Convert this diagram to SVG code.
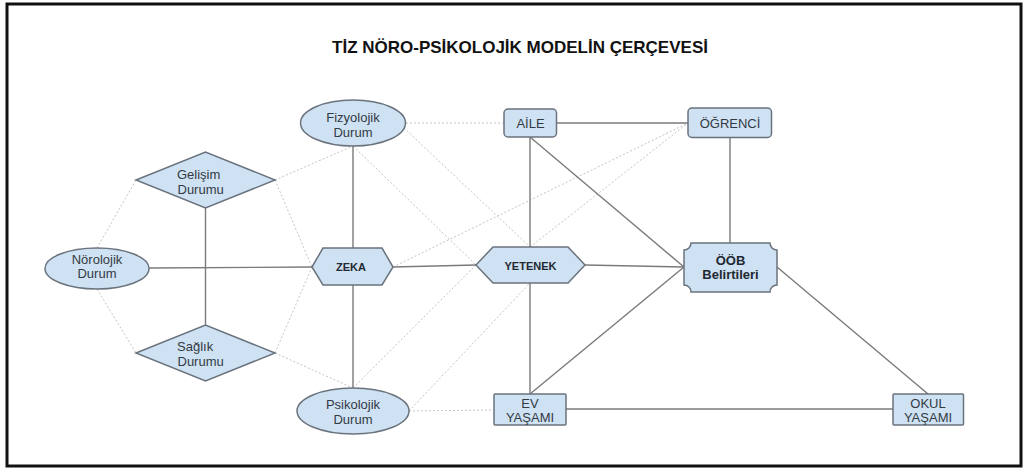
<svg xmlns="http://www.w3.org/2000/svg" width="1027" height="468" viewBox="0 0 1027 468">
  <style>
    .frame { fill: #ffffff; stroke: #111111; stroke-width: 3; }
    .title { font-family: "Liberation Sans", Arial, sans-serif; font-size: 17px; font-weight: bold; fill: #111111; }
    .node { fill: #cfe2f3; stroke: #6a737d; stroke-width: 1.5; }
    .lbl { font-family: "Liberation Sans", Arial, sans-serif; font-size: 13px; fill: #333a44; text-anchor: middle; }
    .lblb { font-family: "Liberation Sans", Arial, sans-serif; font-size: 11px; font-weight: bold; fill: #222831; text-anchor: middle; }
    .lblb2 { font-family: "Liberation Sans", Arial, sans-serif; font-size: 13px; font-weight: bold; fill: #222831; text-anchor: middle; }
    .lbll { font-family: "Liberation Sans", Arial, sans-serif; font-size: 13px; fill: #333a44; text-anchor: start; }
    .solid { stroke: #7a7a7a; stroke-width: 1.4; fill: none; }
    .dot { stroke: #c4c4c4; stroke-width: 1; stroke-dasharray: 2 2; fill: none; }
  </style>

  <rect class="frame" x="7" y="4" width="1014" height="462"/>
  <text class="title" x="520" y="53" text-anchor="middle">TİZ NÖRO-PSİKOLOJİK MODELİN ÇERÇEVESİ</text>

  <!-- connectors -->
  <g id="connectors">
    <g id="dotted-links">
      <line class="dot" x1="97" y1="248" x2="136" y2="180"/>
      <line class="dot" x1="97" y1="289" x2="136" y2="353"/>
      <line class="dot" x1="275" y1="180" x2="353" y2="146"/>
      <line class="dot" x1="275" y1="180" x2="312" y2="267"/>
      <line class="dot" x1="275" y1="353" x2="312" y2="267"/>
      <line class="dot" x1="275" y1="353" x2="353" y2="388"/>
      <line class="dot" x1="406" y1="123" x2="504" y2="123"/>
      <line class="dot" x1="404" y1="128" x2="530" y2="247"/>
      <line class="dot" x1="353" y1="146" x2="476" y2="265"/>
      <line class="dot" x1="393" y1="267" x2="688" y2="123"/>
      <line class="dot" x1="530" y1="247" x2="688" y2="123"/>
      <line class="dot" x1="353" y1="388" x2="476" y2="265"/>
      <line class="dot" x1="409" y1="411" x2="530" y2="283"/>
      <line class="dot" x1="409" y1="411" x2="494" y2="410"/>
    </g>
    <g id="solid-links">
      <line class="solid" x1="149" y1="268" x2="312" y2="267"/>
      <line class="solid" x1="205.5" y1="208" x2="205.5" y2="325"/>
      <line class="solid" x1="353" y1="146" x2="353" y2="248"/>
      <line class="solid" x1="353" y1="285" x2="353" y2="388"/>
      <line class="solid" x1="393" y1="267" x2="476" y2="265"/>
      <line class="solid" x1="585" y1="265" x2="684" y2="267"/>
      <line class="solid" x1="530" y1="137" x2="530" y2="247"/>
      <line class="solid" x1="530" y1="283" x2="530" y2="394"/>
      <line class="solid" x1="557" y1="123" x2="688" y2="123"/>
      <line class="solid" x1="530" y1="137" x2="684" y2="267"/>
      <line class="solid" x1="730" y1="138" x2="730" y2="243"/>
      <line class="solid" x1="530" y1="394" x2="684" y2="267"/>
      <line class="solid" x1="566" y1="409" x2="893" y2="409"/>
      <line class="solid" x1="777" y1="267" x2="928" y2="394"/>
    </g>
  </g>

  <!-- nodes -->
  <g id="fizyolojik">
    <ellipse class="node" cx="353" cy="123" rx="52.5" ry="23"/>
    <text class="lbl" x="353" y="121.5">Fizyolojik</text>
    <text class="lbl" x="353" y="136.5">Durum</text>
  </g>
  <g id="gelisim">
    <polygon class="node" points="136,180 205.5,152 275,180 205.5,208"/>
    <text class="lbll" x="177" y="178.5">Gelişim</text>
    <text class="lbll" x="177.5" y="193.5">Durumu</text>
  </g>
  <g id="norolojik">
    <ellipse class="node" cx="97" cy="268.5" rx="52" ry="20.5"/>
    <text class="lbl" x="97" y="263.5">Nörolojik</text>
    <text class="lbl" x="97" y="278">Durum</text>
  </g>
  <g id="saglik">
    <polygon class="node" points="136,353 205.5,325 275,353 205.5,381"/>
    <text class="lbll" x="177" y="350.5">Sağlık</text>
    <text class="lbll" x="177.5" y="365.5">Durumu</text>
  </g>
  <g id="psikolojik">
    <ellipse class="node" cx="353" cy="411" rx="56" ry="23"/>
    <text class="lbl" x="353" y="408.5">Psikolojik</text>
    <text class="lbl" x="353" y="423.5">Durum</text>
  </g>
  <g id="zeka">
    <polygon class="node" points="312,267 323,248 382,248 393,267 382,285 323,285"/>
    <text class="lblb" x="351" y="271">ZEKA</text>
  </g>
  <g id="yetenek">
    <polygon class="node" points="476,265 493,247 568,247 585,265 568,283 493,283"/>
    <text class="lblb" x="530.5" y="270">YETENEK</text>
  </g>
  <g id="aile">
    <rect class="node" x="504" y="109" width="52.5" height="28" rx="4"/>
    <text class="lbl" x="530.5" y="127.5">AİLE</text>
  </g>
  <g id="ogrenci">
    <rect class="node" x="688" y="108" width="83.5" height="29.5" rx="4"/>
    <text class="lbl" x="730" y="127.5">ÖĞRENCİ</text>
  </g>
  <g id="oob">
    <path class="node" d="M691,243 H770 A7,7 0 0 0 777,250 V285 A7,7 0 0 0 770,292 H691 A7,7 0 0 0 684,285 V250 A7,7 0 0 0 691,243 Z"/>
    <text class="lblb2" x="730.5" y="264.5">ÖÖB</text>
    <text class="lblb2" x="730.5" y="279">Belirtileri</text>
  </g>
  <g id="ev">
    <rect class="node" x="494" y="394" width="72" height="31" rx="1"/>
    <text class="lbl" x="530" y="407.5">EV</text>
    <text class="lbl" x="530" y="422">YAŞAMI</text>
  </g>
  <g id="okul">
    <rect class="node" x="893" y="394" width="70.5" height="31" rx="1"/>
    <text class="lbl" x="928" y="407.5">OKUL</text>
    <text class="lbl" x="928" y="422">YAŞAMI</text>
  </g>
</svg>
